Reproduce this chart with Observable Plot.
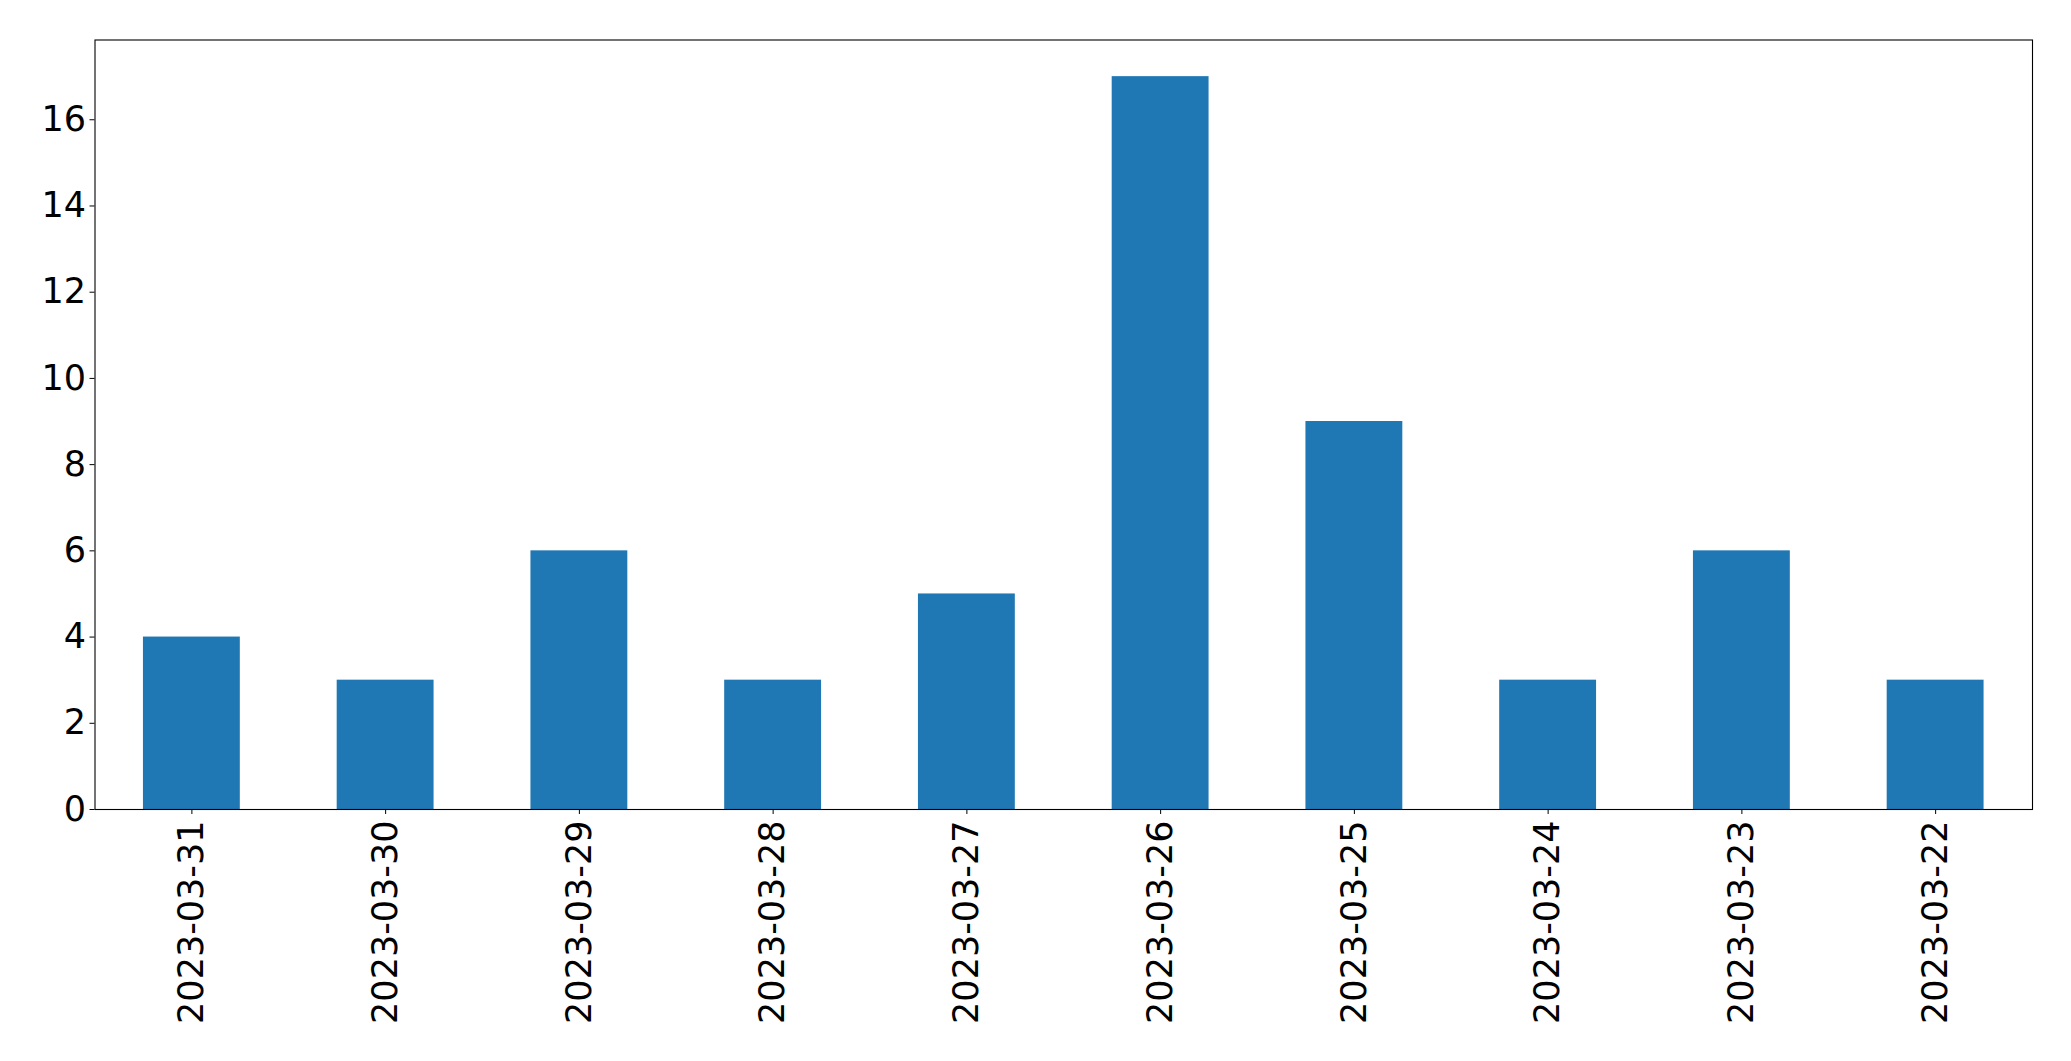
<!DOCTYPE html>
<html>
<head>
<meta charset="utf-8">
<script src="https://cdn.jsdelivr.net/npm/d3@7"></script>
<script src="https://cdn.jsdelivr.net/npm/@observablehq/plot@0.6"></script>
<style>
  html, body { margin: 0; padding: 0; background: #fff; }
</style>
</head>
<body>
<div id="chart"></div>
<script>
const dates = ["2023-03-31","2023-03-30","2023-03-29","2023-03-28","2023-03-27","2023-03-26","2023-03-25","2023-03-24","2023-03-23","2023-03-22"];
const counts = [4, 3, 6, 3, 5, 17, 9, 3, 6, 3];
const yTicks = [0, 2, 4, 6, 8, 10, 12, 14, 16];

const data = dates.map((d, i) => ({date: d, count: counts[i]}));

const chart = Plot.plot({
  width: 2071,
  height: 1061,
  marginLeft: 94.5,
  marginRight: 39,
  marginTop: 39.5,
  marginBottom: 252,
  style: {fontFamily: "DejaVu Sans", fontSize: "35px", color: "black", background: "white"},
  x: {domain: dates, paddingInner: 0.5, paddingOuter: 0.25, round: false, label: null},
  y: {domain: [0, 17.85], label: null},
  marks: [
    Plot.barY(data, {x: "date", y: "count", fill: "#1f77b4"}),
    Plot.frame({stroke: "black", strokeWidth: 1.1}),
    Plot.axisY({ticks: yTicks, tickSize: 5, tickPadding: 4, fontSize: 35, label: null, stroke: "black"}),
    Plot.axisX({tickSize: 5, tickPadding: 6, tickRotate: -90, fontSize: 35, label: null, stroke: "black"})
  ]
});
document.getElementById("chart").appendChild(chart);
</script>
</body>
</html>
